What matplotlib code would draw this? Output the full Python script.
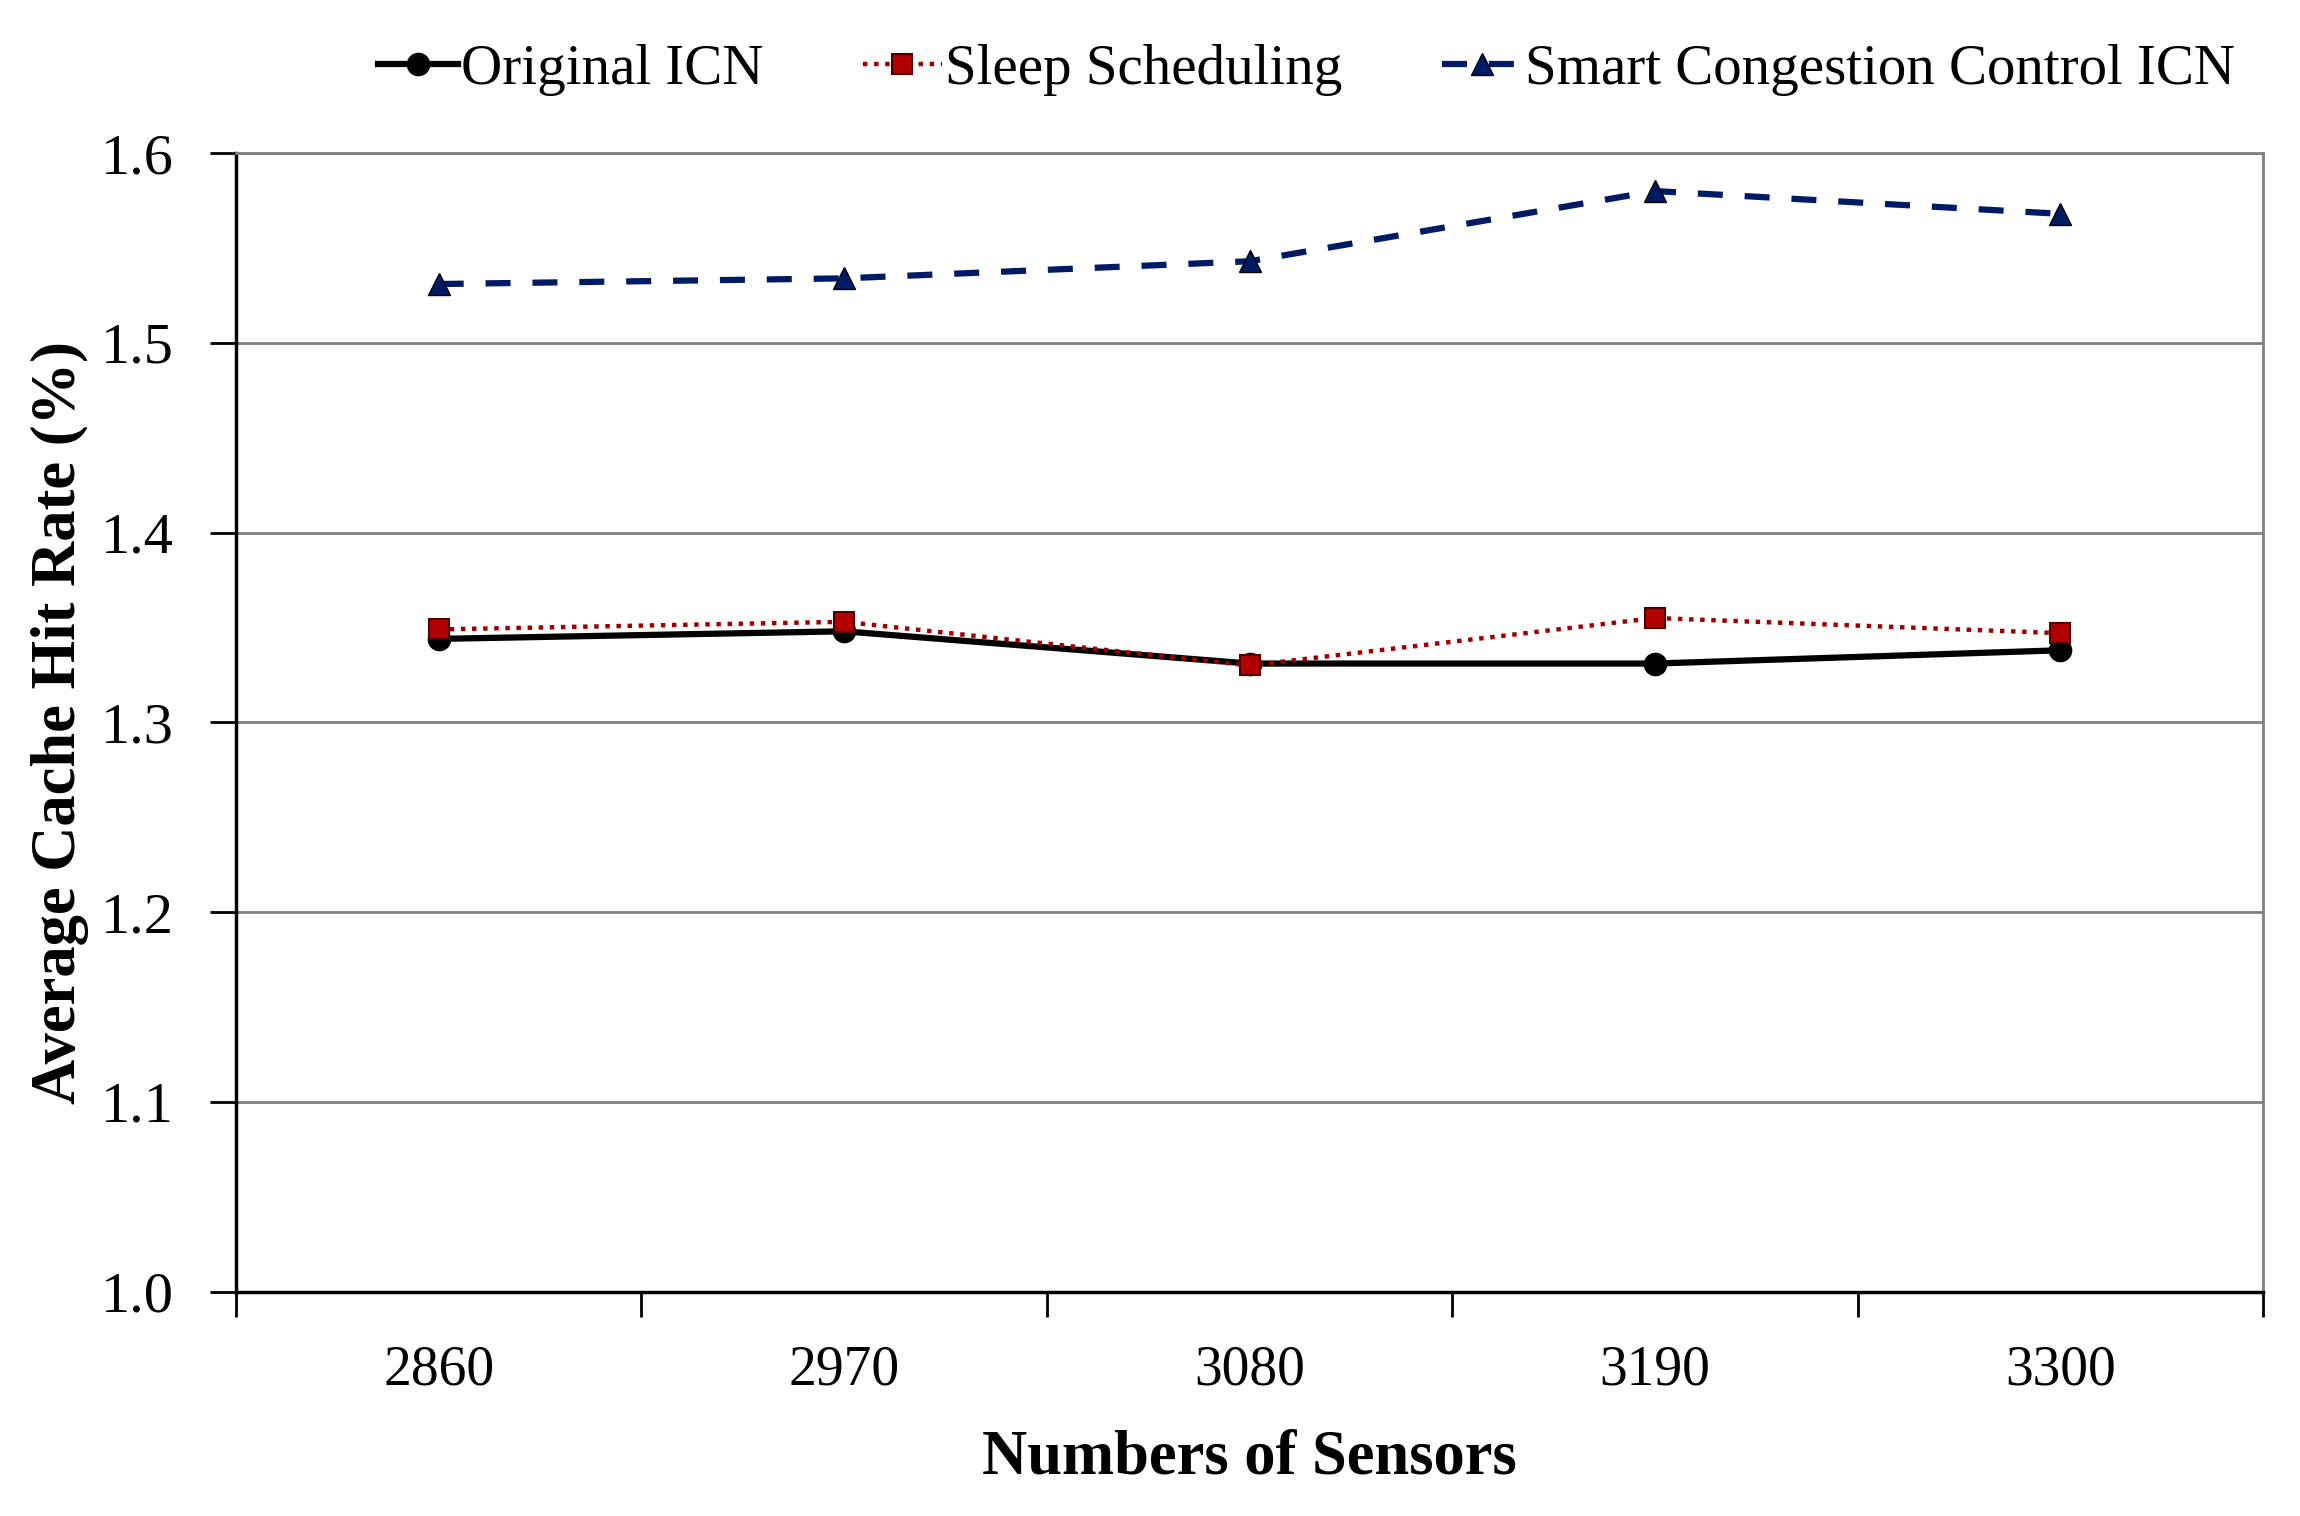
import matplotlib
matplotlib.use('Agg')
import matplotlib.pyplot as plt
import numpy as np

plt.rcParams['font.family'] = ['Liberation Serif', 'DejaVu Serif']

sensors = ['2860', '2970', '3080', '3190', '3300']
original_icn = [1.344, 1.348, 1.331, 1.331, 1.338]
sleep_sched = [1.349, 1.353, 1.330, 1.355, 1.347]
smart_cc_icn = [1.531, 1.534, 1.543, 1.580, 1.568]

fig = plt.figure(figsize=(23, 15.16), dpi=100)
ax = fig.add_axes([0.1026, 0.148, 0.8814, 0.751])

x = np.arange(len(sensors)) + 0.5

ax.plot(x, original_icn, color='black', lw=4.5, marker='o', markersize=16,
        label='Original ICN', zorder=3)
ax.plot(x, sleep_sched, color='#a00000', lw=3.2, linestyle=(0, (1, 1.5)),
        marker='s', markersize=14, markerfacecolor='#b00000',
        markeredgecolor='#500000', markeredgewidth=1.5,
        label='Sleep Scheduling', zorder=4)
ax.plot(x, smart_cc_icn, color='#001a66', lw=4.5, linestyle=(0, (4, 3.5)),
        marker='^', markersize=16, markerfacecolor='#001a66',
        markeredgecolor='#000000', label='Smart Congestion Control ICN', zorder=3)

ax.set_xlim(0, len(sensors))
ax.set_ylim(1.0, 1.6)
ax.set_yticks(np.arange(1.0, 1.61, 0.1))
ax.set_yticklabels(['%.1f' % v for v in np.arange(1.0, 1.61, 0.1)])
ax.set_xticks(np.arange(len(sensors) + 1))
ax.set_xticklabels([])
ax.set_xticks(x, minor=True)
ax.set_xticklabels(sensors, minor=True)
ax.tick_params(axis='x', which='minor', length=0, pad=38, labelsize=40)
ax.tick_params(axis='x', which='major', direction='out', length=18, width=2)
ax.tick_params(axis='y', direction='out', length=19, width=2, pad=26, labelsize=42)

ax.yaxis.grid(True, color='#808080', lw=2)
ax.set_axisbelow(True)
for s in ['top', 'right']:
    ax.spines[s].set_color('#808080')
    ax.spines[s].set_linewidth(2)
for s in ['left', 'bottom']:
    ax.spines[s].set_color('black')
    ax.spines[s].set_linewidth(2.5)

ax.set_xlabel('Numbers of Sensors', fontsize=45, fontweight='bold', labelpad=24)
ax.set_ylabel('Average Cache Hit Rate (%)', fontsize=45, fontweight='bold', labelpad=8)

ax.legend(loc='lower center', bbox_to_anchor=(0.528, 1.03), ncol=3, frameon=False,
          fontsize=41, handlelength=1.4, handletextpad=0.05, columnspacing=1.75,
          borderaxespad=0)

fig.savefig('out.png', dpi=100)
